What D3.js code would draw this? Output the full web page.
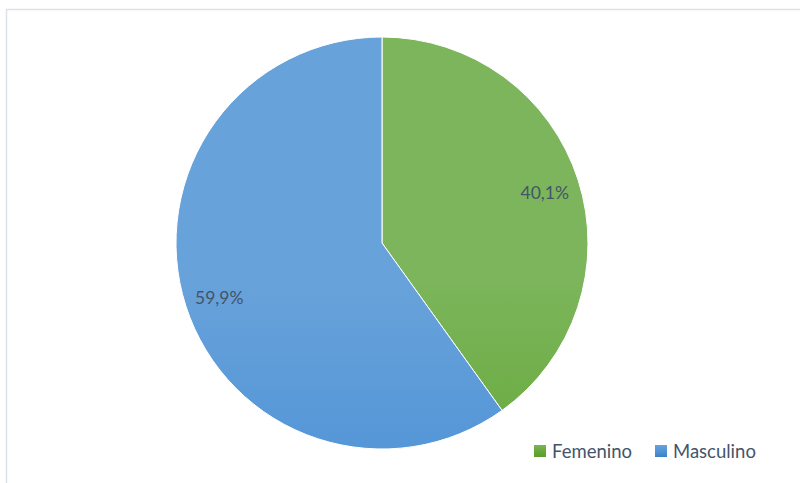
<!DOCTYPE html>
<html>
<head>
<meta charset="utf-8">
<script src="https://cdn.jsdelivr.net/npm/d3@7"></script>
<style>
  html, body { margin: 0; padding: 0; background: #fff; }
  svg { display: block; }
  text { font-family: Lato, "Open Sans", sans-serif; }
</style>
</head>
<body>
<svg id="chart" width="800" height="483"></svg>
<script>
// Distribution by sex (percent)
const categories = ["Femenino", "Masculino"];
const values = [40.1, 59.9];
const labels = ["40,1%", "59,9%"];

const width = 800, height = 483;
const cx = 382, cy = 243, radius = 206;

const svg = d3.select("#chart");
const defs = svg.append("defs");

// Vertical gradients: lighter at the top of the pie, deeper at the bottom
const gradStops = {
  Femenino: ["#7cb55b", "#66a93a", "#5b9e2c"],
  Masculino: ["#68a2da", "#5194d7", "#3e81c3"]
};
const gradIds = {};
function addGradient(id, stops, userSpace) {
  const g = defs.append("linearGradient").attr("id", id);
  if (userSpace) {
    g.attr("gradientUnits", "userSpaceOnUse")
      .attr("x1", 0).attr("y1", cy - radius)
      .attr("x2", 0).attr("y2", cy + radius);
  } else {
    g.attr("x1", 0).attr("y1", 0).attr("x2", 0).attr("y2", 1);
  }
  stops.forEach((s, k) => g.append("stop")
    .attr("offset", (k / (stops.length - 1) * 100) + "%")
    .attr("stop-color", s));
}
categories.forEach((c, i) => {
  gradIds[c] = "grad" + i;
  addGradient("grad" + i, gradStops[c], true);
  addGradient("legend" + i, gradStops[c], false);
});

// Chart area frame
svg.append("rect")
  .attr("x", 6.5).attr("y", 9.5)
  .attr("width", 820).attr("height", 500)
  .attr("fill", "none")
  .attr("stroke", "#dde1e8")
  .attr("stroke-width", 1.5);

const pie = d3.pie().sort(null).value(d => d.value);
const data = categories.map((c, i) => ({ cat: c, value: values[i], label: labels[i] }));
const arcs = pie(data);

const arc = d3.arc().innerRadius(0).outerRadius(radius);
const labelArc = d3.arc().innerRadius(radius * 0.83).outerRadius(radius * 0.83);

const g = svg.append("g").attr("transform", `translate(${cx},${cy})`);

g.selectAll("path.slice")
  .data(arcs)
  .join("path")
  .attr("class", "slice")
  .attr("d", arc)
  .attr("fill", d => `url(#${gradIds[d.data.cat]})`)
  .attr("stroke", "#ffffff")
  .attr("stroke-width", 1);

g.selectAll("text.val")
  .data(arcs)
  .join("text")
  .attr("class", "val")
  .attr("transform", d => {
    const [x, y] = labelArc.centroid(d);
    return `translate(${x},${y + 2})`;
  })
  .attr("text-anchor", "middle")
  .attr("dominant-baseline", "central")
  .attr("font-size", 17.5)
  .attr("fill", "#44546a")
  .text(d => d.data.label);

// Legend
const legendX = [534, 655];
const legend = svg.append("g");
categories.forEach((c, i) => {
  const lg = legend.append("g").attr("transform", `translate(${legendX[i]},445)`);
  lg.append("rect").attr("width", 12).attr("height", 12)
    .attr("fill", `url(#legend${i})`);
  lg.append("text")
    .attr("x", 18).attr("y", 6)
    .attr("dominant-baseline", "central")
    .attr("font-size", 18.5)
    .attr("fill", "#44546a")
    .text(c);
});
</script>
</body>
</html>
